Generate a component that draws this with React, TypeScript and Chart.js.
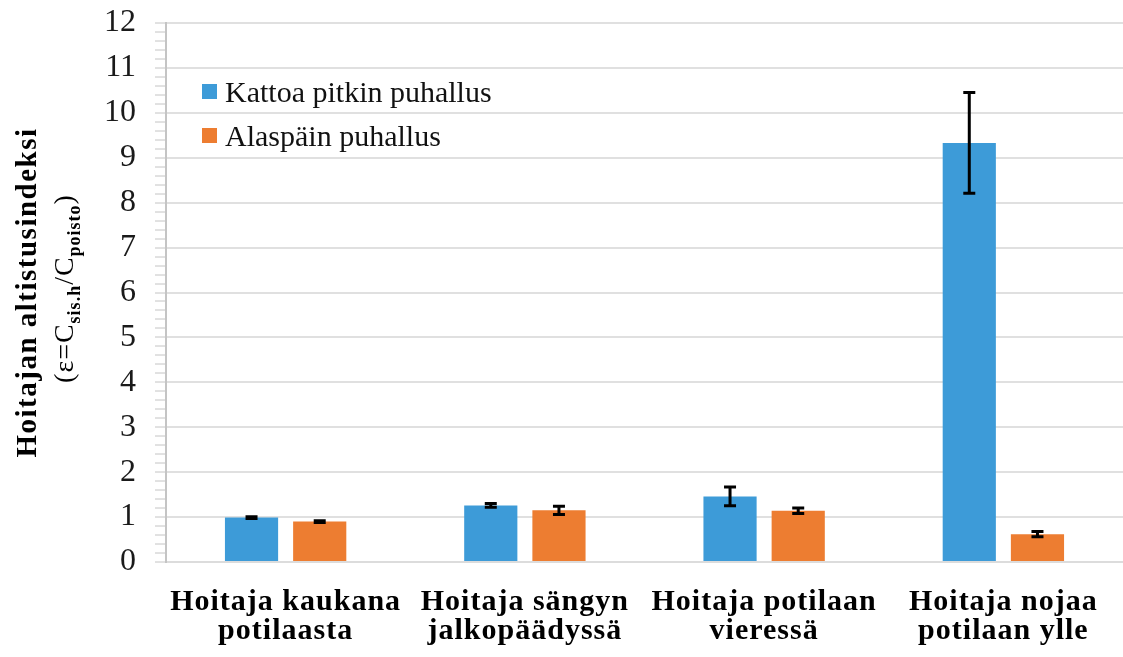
import React, { useEffect, useRef } from "react";
import { Chart, registerables } from "chart.js";

Chart.register(...registerables);

const categories: string[][] = [
  ["Hoitaja kaukana", "potilaasta"],
  ["Hoitaja sängyn", "jalkopäädyssä"],
  ["Hoitaja potilaan", "vieressä"],
  ["Hoitaja nojaa", "potilaan ylle"],
];
const seriesNames = ["Kattoa pitkin puhallus", "Alaspäin puhallus"];
const kattoaValues = [0.99, 1.26, 1.46, 9.33];
const kattoaErrors = [0.02, 0.04, 0.21, 1.12];
const alaspainValues = [0.9, 1.15, 1.14, 0.62];
const alaspainErrors = [0.02, 0.09, 0.06, 0.06];
const yMin = 0;
const yMax = 12;

const BLUE = "#3D9BD8";
const ORANGE = "#ED7D31";
const FONT = "'Liberation Serif', 'DejaVu Serif', serif";

const errorBarPlugin = {
  id: "errorBars",
  afterDatasetsDraw(chart: any) {
    const ctx = chart.ctx;
    const yScale = chart.scales.y;
    ctx.save();
    ctx.strokeStyle = "#000";
    ctx.lineWidth = 3;
    chart.data.datasets.forEach((ds: any, i: number) => {
      const meta = chart.getDatasetMeta(i);
      meta.data.forEach((bar: any, j: number) => {
        const v = ds.data[j];
        const e = ds.errors[j];
        const x = bar.x;
        const yt = yScale.getPixelForValue(v + e);
        const yb = yScale.getPixelForValue(v - e);
        ctx.beginPath();
        ctx.moveTo(x, yt);
        ctx.lineTo(x, yb);
        ctx.moveTo(x - 6, yt);
        ctx.lineTo(x + 6, yt);
        ctx.moveTo(x - 6, yb);
        ctx.lineTo(x + 6, yb);
        ctx.stroke();
      });
    });
    ctx.restore();
  },
};

const legendPlugin = {
  id: "innerLegend",
  afterDraw(chart: any) {
    const ctx = chart.ctx;
    const area = chart.chartArea;
    ctx.save();
    ctx.font = `30px ${FONT}`;
    ctx.textBaseline = "middle";
    chart.data.datasets.forEach((ds: any, i: number) => {
      const cy = area.top + 69 + i * 44;
      const sx = area.left + 36;
      ctx.fillStyle = ds.backgroundColor;
      ctx.fillRect(sx, cy - 8, 15, 15);
      ctx.fillStyle = "#111";
      ctx.fillText(ds.label, sx + 23, cy + 2);
    });
    ctx.restore();
  },
};

const yTitlePlugin = {
  id: "yTitle",
  afterDraw(chart: any) {
    const ctx = chart.ctx;
    const area = chart.chartArea;
    const cy = (area.top + area.bottom) / 2;
    ctx.save();
    ctx.fillStyle = "#000";
    ctx.textBaseline = "middle";
    ctx.letterSpacing = "1.5px";
    // line 1
    ctx.save();
    ctx.translate(29, cy);
    ctx.rotate(-Math.PI / 2);
    ctx.font = `bold 29px ${FONT}`;
    ctx.textAlign = "center";
    ctx.fillText("Hoitajan altistusindeksi", 0, 0);
    ctx.restore();
    // line 2 with subscripts
    const parts: [string, boolean][] = [
      ["(ε=C", false],
      ["sis.h", true],
      ["/C", false],
      ["poisto", true],
      [")", false],
    ];
    const mainFont = `28px ${FONT}`;
    const subFont = `bold 18px ${FONT}`;
    ctx.letterSpacing = "1px";
    let total = 0;
    parts.forEach(([t, sub]) => {
      ctx.font = sub ? subFont : mainFont;
      total += ctx.measureText(t).width;
    });
    ctx.save();
    ctx.translate(66, cy - 4);
    ctx.rotate(-Math.PI / 2);
    ctx.textAlign = "left";
    let x = -total / 2;
    parts.forEach(([t, sub]) => {
      ctx.font = sub ? subFont : mainFont;
      ctx.fillText(t, x, sub ? 9 : 0);
      x += ctx.measureText(t).width;
    });
    ctx.restore();
    ctx.restore();
  },
};

export default function App() {
  const canvasRef = useRef<HTMLCanvasElement | null>(null);

  useEffect(() => {
    if (!canvasRef.current) return;
    const chart = new Chart(canvasRef.current, {
      type: "bar",
      data: {
        labels: categories,
        datasets: [
          {
            label: seriesNames[0],
            data: kattoaValues,
            errors: kattoaErrors,
            backgroundColor: BLUE,
            categoryPercentage: 0.57,
            barPercentage: 0.78,
          } as any,
          {
            label: seriesNames[1],
            data: alaspainValues,
            errors: alaspainErrors,
            backgroundColor: ORANGE,
            categoryPercentage: 0.57,
            barPercentage: 0.78,
          } as any,
        ],
      },
      options: {
        animation: false,
        responsive: false,
        maintainAspectRatio: false,
        layout: { padding: { top: 23, right: 0, left: 0, bottom: 0 } },
        plugins: {
          legend: { display: false },
          tooltip: { enabled: false },
          title: { display: false },
        },
        scales: {
          x: {
            grid: { display: false },
            border: { color: "#dcdcdc", width: 2 },
            ticks: {
              color: "#000",
              padding: 18,
              maxRotation: 0,
              autoSkip: false,
              font: { family: FONT, size: 30, weight: "bold", lineHeight: 0.95 },
            },
            afterFit(scale: any) {
              scale.height = 95;
              scale.paddingLeft = 0;
              scale.paddingRight = 0;
            },
            afterUpdate(scale: any) {
              if (!scale._lsWrapped) {
                const orig = scale.drawLabels.bind(scale);
                scale.drawLabels = (a: any) => {
                  const ctx = scale.ctx;
                  const prev = ctx.letterSpacing;
                  ctx.letterSpacing = "1px";
                  orig(a);
                  ctx.letterSpacing = prev;
                };
                scale._lsWrapped = true;
              }
            },
          },
          y: {
            min: yMin,
            max: yMax,
            grid: {
              color: (c: any) =>
                Math.abs(c.tick.value - Math.round(c.tick.value)) < 1e-6 && c.tick.value !== 0
                  ? "#e0e0e0"
                  : "rgba(0,0,0,0)",
              lineWidth: 2,
              tickColor: "#c4c4c4",
              tickLength: 11,
              tickWidth: 1,
            },
            border: { color: "#c4c4c4", width: 2 },
            ticks: {
              stepSize: 0.2,
              autoSkip: false,
              color: "#1a1a1a",
              padding: 19,
              font: { family: FONT, size: 32 },
              callback: (v: any) =>
                Math.abs(v - Math.round(v)) < 1e-6 ? String(Math.round(v)) : "",
            },
            afterFit(scale: any) {
              scale.width = 166;
              scale.paddingTop = 0;
              scale.paddingBottom = 0;
            },
          },
        },
      },
      plugins: [errorBarPlugin, legendPlugin, yTitlePlugin],
    });
    return () => chart.destroy();
  }, []);

  return (
    <div style={{ position: "fixed", left: 0, top: 0, width: 1123, height: 657, background: "#fff" }}>
      <canvas ref={canvasRef} width={1123} height={657} style={{ width: 1123, height: 657 }} />
    </div>
  );
}
